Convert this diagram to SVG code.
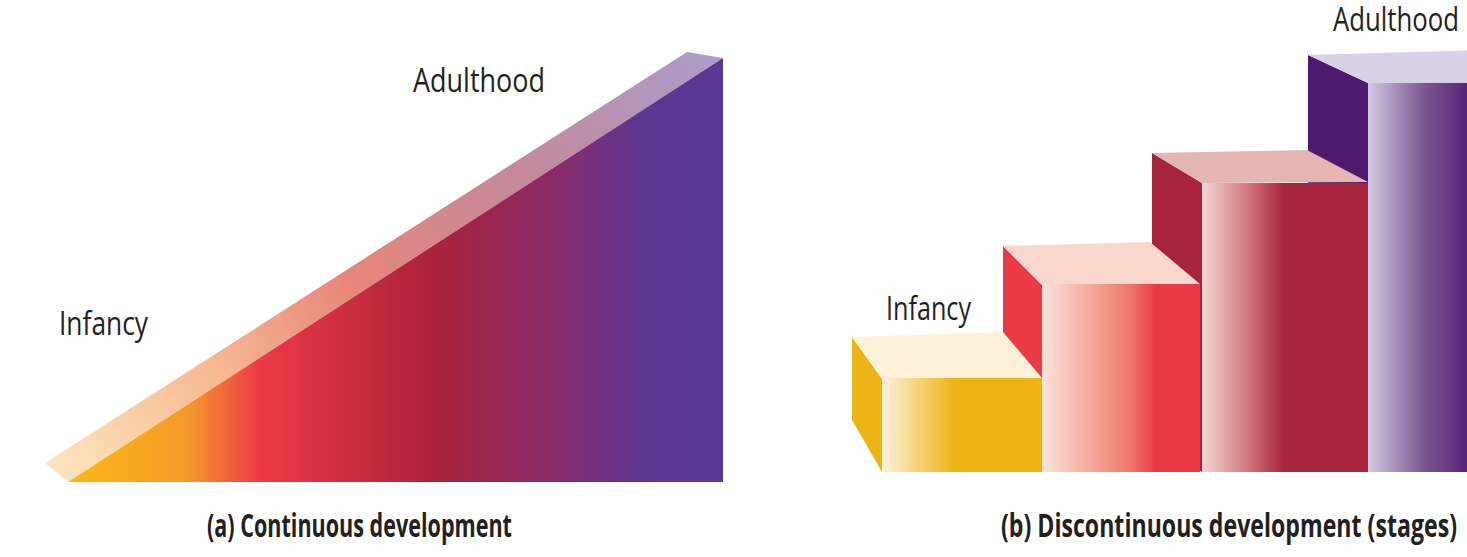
<svg xmlns="http://www.w3.org/2000/svg" width="1467" height="557" viewBox="0 0 1467 557">
<style>
.lbl{font-family:"Open Sans","Noto Sans","Liberation Sans",sans-serif;font-size:32px;fill:#231f20}
.cap{font-family:"Open Sans","Noto Sans","Liberation Sans",sans-serif;font-size:32px;font-weight:bold;fill:#231f20}
</style>
<defs>
<linearGradient id="triFront" gradientUnits="userSpaceOnUse" x1="70" y1="0" x2="723" y2="0">
<stop offset="0" stop-color="#fbb817"/>
<stop offset="0.18" stop-color="#f59a2a"/>
<stop offset="0.29" stop-color="#ee3a48"/>
<stop offset="0.55" stop-color="#ab2238"/>
<stop offset="0.75" stop-color="#862c6c"/>
<stop offset="0.88" stop-color="#5c3793"/>
<stop offset="1" stop-color="#5a3794"/>
</linearGradient>
<linearGradient id="triTop" gradientUnits="userSpaceOnUse" x1="45" y1="463" x2="723" y2="55">
<stop offset="0" stop-color="#fde6c0"/>
<stop offset="0.25" stop-color="#f6b88f"/>
<stop offset="0.45" stop-color="#e7857a"/>
<stop offset="0.7" stop-color="#c3899a"/>
<stop offset="1" stop-color="#ab9dcc"/>
</linearGradient>
<linearGradient id="yFront" x1="0" y1="0" x2="1" y2="0">
<stop offset="0" stop-color="#fdf1dc"/>
<stop offset="0.45" stop-color="#eeb416"/>
<stop offset="1" stop-color="#eeb416"/>
</linearGradient>
<linearGradient id="rFront" x1="0" y1="0" x2="1" y2="0">
<stop offset="0" stop-color="#fde3da"/>
<stop offset="0.55" stop-color="#ef7a6e"/>
<stop offset="0.72" stop-color="#ea3a48"/>
<stop offset="1" stop-color="#ea3a48"/>
</linearGradient>
<linearGradient id="cFront" x1="0" y1="0" x2="1" y2="0">
<stop offset="0" stop-color="#f3d6d2"/>
<stop offset="0.3" stop-color="#cd6e76"/>
<stop offset="0.5" stop-color="#a6243c"/>
<stop offset="1" stop-color="#a6243c"/>
</linearGradient>
<linearGradient id="pFront" x1="0" y1="0" x2="1" y2="0">
<stop offset="0" stop-color="#d2cae2"/>
<stop offset="0.5" stop-color="#7a5790"/>
<stop offset="1" stop-color="#4f1570"/>
</linearGradient>
</defs>

<g id="continuous">
<polygon points="45,463 68,482 723,58 687,52" fill="url(#triTop)"/>
<polygon points="68,482 723,482 723,58" fill="url(#triFront)"/>
</g>

<g id="stage4">
<polygon points="1308,55 1368,83 1368,472 1308,444" fill="#4f1a6e"/>
<polygon points="1308,55 1480,50 1480,83 1368,83" fill="#d9d2e7"/>
<rect x="1368" y="83" width="112" height="389" fill="url(#pFront)"/>
</g>
<g id="stage3">
<polygon points="1152,153 1202,183 1202,472 1152,442" fill="#a6243c"/>
<polygon points="1152,153 1307,150 1368,182 1202,183" fill="#e4b5b1"/>
<rect x="1202" y="183" width="166" height="289" fill="url(#cFront)"/>
</g>
<g id="stage2">
<polygon points="1003,246 1042,285 1042,472 1003,433" fill="#ea3a48"/>
<polygon points="1003,246 1150,242 1200,284 1042,285" fill="#fad7cd"/>
<rect x="1042" y="284" width="158" height="188" fill="url(#rFront)"/>
</g>
<g id="stage1">
<polygon points="852,337 882,379 882,472 852,420" fill="#eeb416"/>
<polygon points="852,337 1003,332 1042,378 882,379" fill="#fdf1d8"/>
<rect x="882" y="378" width="160" height="94" fill="url(#yFront)"/>
</g>

<g id="labels">
<text class="lbl" x="413" y="92" textLength="132" lengthAdjust="spacingAndGlyphs">Adulthood</text>
<text class="lbl" x="59" y="335" textLength="89" lengthAdjust="spacingAndGlyphs">Infancy</text>
<text class="lbl" transform="scale(0.74,1)" x="1801.35" y="31" textLength="170.3" lengthAdjust="spacingAndGlyphs">Adulthood</text>
<text class="lbl" x="886" y="320" textLength="85" lengthAdjust="spacingAndGlyphs">Infancy</text>
<text class="cap" transform="scale(0.68,1)" x="304.4" y="537" textLength="448.5" lengthAdjust="spacingAndGlyphs">(a) Continuous development</text>
<text class="cap" transform="scale(0.68,1)" x="1472.06" y="537" textLength="670.6" lengthAdjust="spacingAndGlyphs">(b) Discontinuous development (stages)</text>
</g>
</svg>
